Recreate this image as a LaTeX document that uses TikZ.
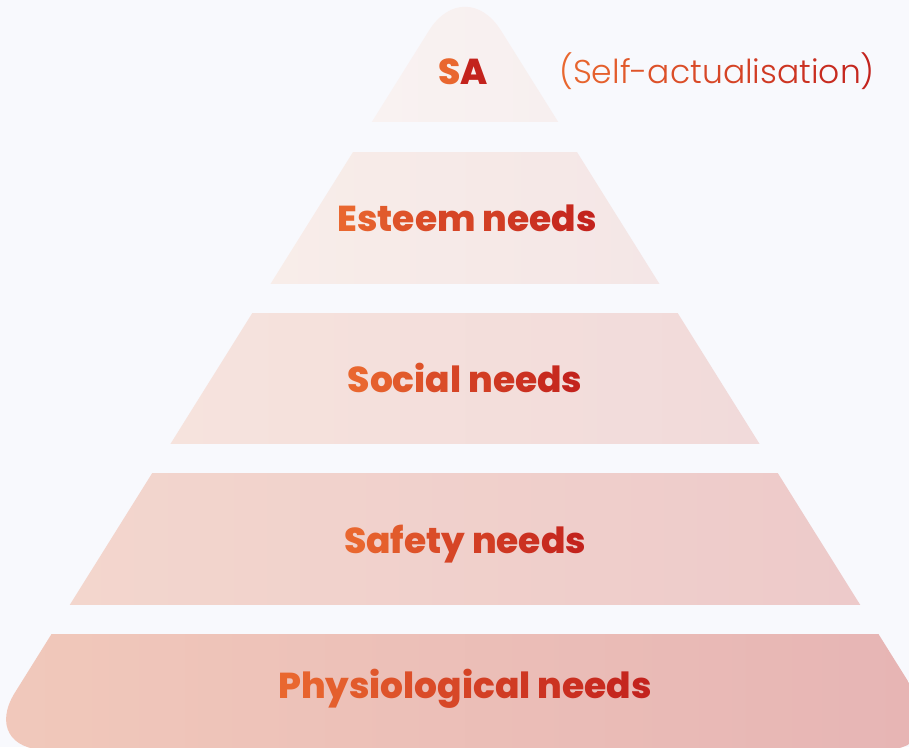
\documentclass[tikz,border=0pt]{standalone}
\usepackage{fontspec}
\setmainfont{Poppins}
\newfontfamily\thinfont{Poppins Light}
\newfontfamily\heavyfont{Poppins ExtraBold}

% palette
\definecolor{pagebg}{HTML}{F8F9FD}
\definecolor{inkL}{HTML}{E9672F}
\definecolor{inkR}{HTML}{C3231D}
\definecolor{saL}{HTML}{F9F2F1}
\definecolor{saR}{HTML}{F7EFEF}
\definecolor{esL}{HTML}{F8EDE9}
\definecolor{esR}{HTML}{F4E6E6}
\definecolor{soL}{HTML}{F6E3DD}
\definecolor{soR}{HTML}{F1DADA}
\definecolor{sfL}{HTML}{F3D6CD}
\definecolor{sfR}{HTML}{EDCACA}
\definecolor{phL}{HTML}{F1C9BB}
\definecolor{phR}{HTML}{E6B4B4}

% letters run from inkL to inkR
\ExplSyntaxOn
\int_new:N \l_ink_total_int
\int_new:N \l_ink_idx_int
\seq_new:N \l_ink_words_seq
\NewDocumentCommand \inktext { m }
  {
    \seq_set_split:Nnn \l_ink_words_seq { ~ } { #1 }
    \int_set:Nn \l_ink_total_int { \tl_count:n { #1 } }
    \int_zero:N \l_ink_idx_int
    \seq_map_indexed_inline:Nn \l_ink_words_seq
      {
        \int_compare:nNnT { ##1 } > { 1 } { \c_space_tl }
        \tl_map_inline:nn { ##2 }
          {
            \textcolor
              { inkR ! \int_eval:n { 100 * \l_ink_idx_int / ( \l_ink_total_int - 1 ) } ! inkL }
              { ####1 }
            \int_incr:N \l_ink_idx_int
          }
      }
  }
\ExplSyntaxOff

\tikzset{
  tier/.style={font=\heavyfont\fontsize{36}{42}\selectfont, inner sep=0pt, anchor=base},
  sidenote/.style={font=\thinfont\fontsize{33}{38}\selectfont, inner sep=0pt, anchor=base},
}

\begin{document}
\begin{tikzpicture}[x=1pt, y=-1pt]

\useasboundingbox (0,0) rectangle (909,747);
\fill[pagebg] (0,0) rectangle (909,747);

% pyramid, cut into five bands
\begin{scope}
\clip[rounded corners=68pt] (465,750) -- (951,750) -- (465,-27) -- (-21,750) -- cycle;
\shade[left color=saL, right color=saR] (370,-30) rectangle (560,121);
\shade[left color=esL, right color=esR] (270,152) rectangle (660,283);
\shade[left color=soL, right color=soR] (170,313) rectangle (760,443);
\shade[left color=sfL, right color=sfR] (68,473) rectangle (862,604);
\shade[left color=phL, right color=phR] (-25,634) rectangle (955,760);
\end{scope}

% band names
\node[tier] (sa) at (463,84) {\inktext{SA}};
\node[sidenote] (self) at (717,83) {\inktext{(Self-actualisation)}};
\node[tier] (esteem) at (467,231) {\inktext{Esteem needs}};
\node[tier] (social) at (465,392) {\inktext{Social needs}};
\node[tier] (safety) at (465,553) {\inktext{Safety needs}};
\node[tier] (physio) at (465,698) {\inktext{Physiological needs}};

\end{tikzpicture}
\end{document}
